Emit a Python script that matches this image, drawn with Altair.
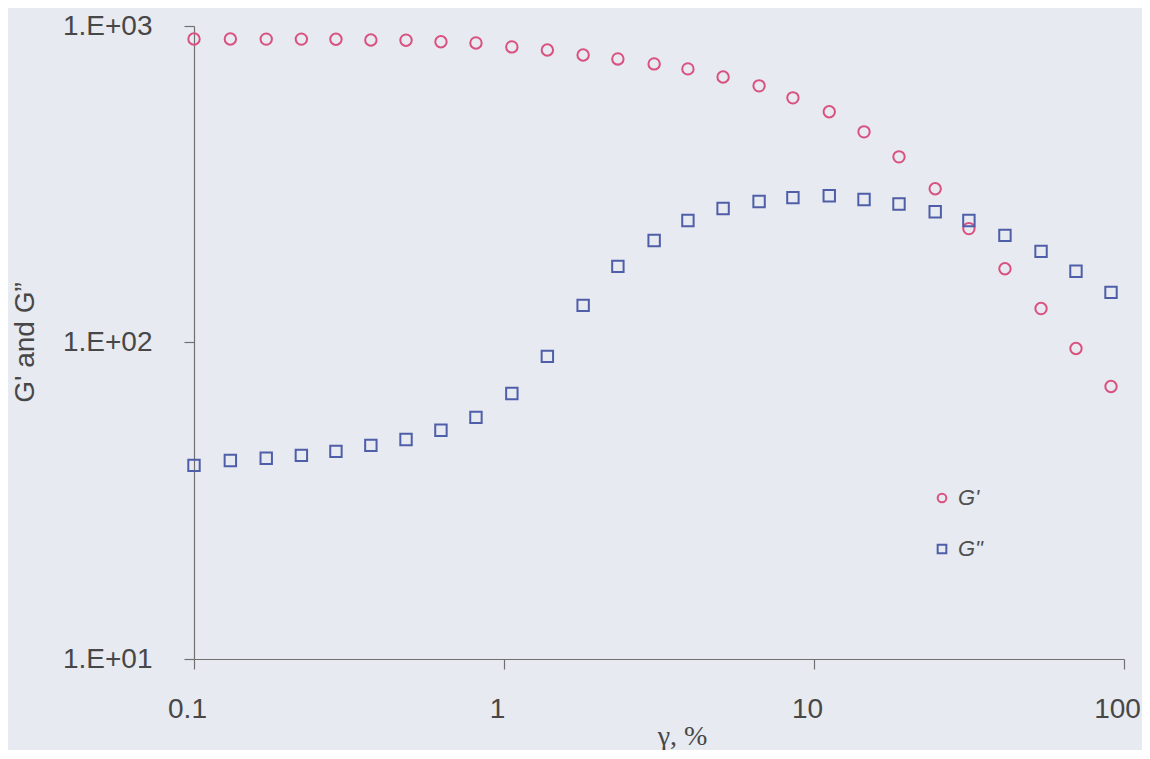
import altair as alt
import pandas as pd

strain = [0.1, 0.131, 0.171, 0.222, 0.287, 0.372, 0.483, 0.626, 0.812, 1.06, 1.38,
          1.80, 2.33, 3.05, 3.92, 5.09, 6.65, 8.55, 11.2, 14.5, 18.8, 24.6, 31.6,
          41.3, 54.0, 70.0, 90.8]
g_storage = [910, 910, 909, 909, 908, 903, 902, 892, 884, 859, 840, 810, 787, 759,
             732, 690, 647, 593, 536, 463, 386, 306, 229, 171, 128, 95.7, 72.6]
g_loss = [40.9, 42.4, 43.1, 44.0, 45.3, 47.3, 49.4, 52.8, 58.0, 69.0, 90.4, 131,
          174, 210, 243, 265, 279, 287, 291, 283, 274, 259, 243, 218, 194, 168, 144]
series_names = ["G'", 'G"']
series_colors = ["#d9527f", "#4f5ea8"]
series_shapes = ["circle", "square"]
x_ticks = [0.1, 1, 10, 100]
y_ticks = [10, 100, 1000]

df = pd.concat([
    pd.DataFrame({"strain": strain, "modulus": g_storage, "series": series_names[0]}),
    pd.DataFrame({"strain": strain, "modulus": g_loss, "series": series_names[1]}),
])

axis_common = dict(
    grid=False,
    domainColor="#707070",
    tickColor="#707070",
    domainWidth=1.2,
    tickWidth=1.2,
    tickSize=10,
    labelFont="Liberation Sans",
    labelFontSize=28,
    labelColor="#474747",
    titleFontWeight="normal",
    titleColor="#474747",
)

chart = alt.Chart(df).mark_point(filled=False, strokeWidth=2, size=130, opacity=1).encode(
    x=alt.X("strain:Q",
            scale=alt.Scale(type="log", domain=[0.1, 100]),
            axis=alt.Axis(values=x_ticks, format="~g", labelPadding=26, labelOffset=-7,
                          title="γ, %", titleFont="Liberation Serif", titleFontSize=28,
                          titleX=488, titleY=85, titleBaseline="alphabetic",
                          titleAlign="center", labelFlush=False, **axis_common)),
    y=alt.Y("modulus:Q",
            scale=alt.Scale(type="log", domain=[10, 1000]),
            axis=alt.Axis(values=y_ticks,
                          labelExpr="'1.E+' + format(round(log(datum.value)/LN10), '02d')",
                          labelPadding=32, labelFlush=False,
                          title="G' and G\u201d", titleFont="Liberation Sans", titleFontSize=28,
                          titleAngle=270, titleX=-161, titleY=316, titleBaseline="alphabetic",
                          titleAlign="center", **axis_common)),
    color=alt.Color("series:N", scale=alt.Scale(domain=series_names, range=series_colors),
                    legend=alt.Legend(title=None, orient="none", legendX=737, legendY=461,
                                      labelFont="Liberation Sans", labelFontSize=22,
                                      labelFontStyle="italic", labelColor="#505050",
                                      symbolSize=75, symbolStrokeWidth=2, rowPadding=29,
                                      labelOffset=5, padding=0, symbolType="circle")),
    shape=alt.Shape("series:N", scale=alt.Scale(domain=series_names, range=series_shapes),
                    legend=None),
).properties(
    width=930,
    height=633,
    background="#e7eaf1",
    padding={"left": 186, "top": 18, "right": 18, "bottom": 91},
    autosize=alt.AutoSizeParams(type="none"),
).configure_view(stroke=None)

chart.save("out.html", embed_options={"renderer": "svg", "actions": False})
